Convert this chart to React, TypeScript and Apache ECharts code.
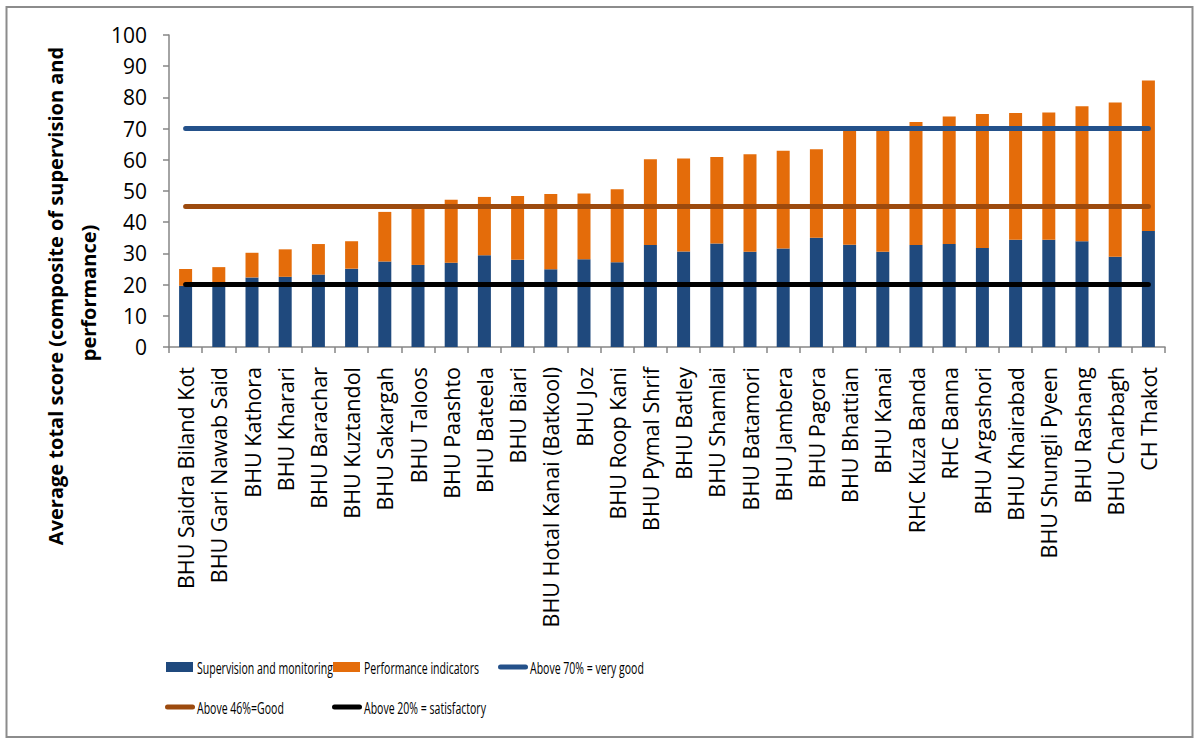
import React, { useEffect, useRef } from "react";
import * as echarts from "echarts";

const categories = [
  "BHU Saidra Biland Kot",
  "BHU Gari Nawab Said",
  "BHU Kathora",
  "BHU Kharari",
  "BHU Barachar",
  "BHU Kuztandol",
  "BHU Sakargah",
  "BHU Taloos",
  "BHU Paashto",
  "BHU Bateela",
  "BHU Biari",
  "BHU Hotal Kanai (Batkool)",
  "BHU Joz",
  "BHU Roop Kani",
  "BHU Pymal Shrif",
  "BHU Batley",
  "BHU Shamlai",
  "BHU Batamori",
  "BHU Jambera",
  "BHU Pagora",
  "BHU Bhattian",
  "BHU Kanai",
  "RHC Kuza Banda",
  "RHC Banna",
  "BHU Argashori",
  "BHU Khairabad",
  "BHU Shungli Pyeen",
  "BHU Rashang",
  "BHU Charbagh",
  "CH Thakot",
];

const supervision = [
  19.6, 20.6, 22.3, 22.5, 23.2, 25.1, 27.4, 26.3, 27.0, 29.4, 28.0, 24.9, 28.1,
  27.2, 32.7, 30.6, 33.2, 30.5, 31.6, 35.0, 32.8, 30.5, 32.7, 33.0, 31.7, 34.4,
  34.4, 33.9, 28.9, 37.2,
];

const performance = [
  5.4, 5.0, 7.9, 8.8, 9.8, 8.8, 15.9, 18.5, 20.2, 18.7, 20.4, 24.1, 21.1, 23.4,
  27.5, 29.8, 27.7, 31.3, 31.3, 28.4, 36.7, 39.2, 39.4, 40.9, 43.0, 40.6, 40.8,
  43.3, 49.5, 48.2,
];

const yTicks = { min: 0, max: 100, interval: 10 };

const veryGood = 70;
const good = 45;
const satisfactory = 20;

const seriesNames = [
  "Supervision and monitoring",
  "Performance indicators",
  "Above 70% = very good",
  "Above 46%=Good",
  "Above 20% = satisfactory",
];

const titleLines = [
  "Average total score (composite of supervision and",
  "performance)",
];

const C_BLUE = "#1F497D";
const C_ORANGE = "#E46C0A";
const C_LINE70 = "#24518A";
const C_LINE45 = "#9C4A0E";
const C_LINE20 = "#000000";
const seriesColors = [C_BLUE, C_ORANGE, C_LINE70, C_LINE45, C_LINE20];

const AXIS_COLOR = "#868686";
const FONT = "'Open Sans', sans-serif";

export default function App() {
  const ref = useRef<HTMLDivElement>(null);

  useEffect(() => {
    if (!ref.current) return;
    const chart = echarts.init(ref.current, undefined, { renderer: "svg" });

    const lineSeries = (name: string, value: number, color: string) => ({
      name,
      type: "line" as const,
      data: categories.map(() => value),
      symbol: "none",
      lineStyle: { color, width: 5, cap: "round" as const },
      itemStyle: { color },
      z: 5,
    });

    // legend layout: [iconLeft, centerY, isLine, textLeft]
    const legendLayout: [number, number, boolean, number][] = [
      [166, 667, false, 197],
      [333, 667, false, 364],
      [498, 667, true, 530],
      [165, 707, true, 197],
      [332, 707, true, 364],
    ];

    const legendGraphics: any[] = [];
    legendLayout.forEach(([ix, cy, isLine, tx], i) => {
      if (isLine) {
        legendGraphics.push({
          type: "line",
          shape: { x1: ix + 2.5, y1: cy, x2: ix + 27.5, y2: cy },
          style: { stroke: seriesColors[i], lineWidth: 5, lineCap: "round" },
          silent: true,
        });
      } else {
        legendGraphics.push({
          type: "rect",
          shape: { x: ix, y: cy - 5, width: 27, height: 10 },
          style: { fill: seriesColors[i] },
          silent: true,
        });
      }
      legendGraphics.push({
        type: "text",
        x: tx,
        y: cy,
        scaleX: 0.62,
        style: {
          text: seriesNames[i],
          fontFamily: FONT,
          fontSize: 17,
          fill: "#000",
          textAlign: "left",
          textVerticalAlign: "middle",
        },
        silent: true,
      });
    });

    chart.setOption({
      animation: false,
      backgroundColor: "#ffffff",
      grid: { left: 169, right: 35, top: 35, bottom: 399, containLabel: false },
      legend: { show: false },
      xAxis: {
        type: "category",
        data: categories,
        boundaryGap: true,
        axisLine: { show: true, lineStyle: { color: AXIS_COLOR, width: 1.5 } },
        axisTick: { show: true, length: 6, lineStyle: { color: AXIS_COLOR, width: 1.5 } },
        axisLabel: {
          rotate: 90,
          interval: 0,
          margin: 20,
          fontFamily: FONT,
          fontSize: 21.5,
          color: "#000",
        },
        splitLine: { show: false },
      },
      yAxis: {
        type: "value",
        min: yTicks.min,
        max: yTicks.max,
        interval: yTicks.interval,
        axisLine: { show: true, lineStyle: { color: AXIS_COLOR, width: 1.5 } },
        axisTick: { show: true, length: 6, lineStyle: { color: AXIS_COLOR, width: 1.5 } },
        axisLabel: {
          margin: 22,
          fontFamily: FONT,
          fontSize: 21,
          color: "#000",
        },
        splitLine: { show: false },
      },
      series: [
        {
          name: seriesNames[0],
          type: "bar",
          stack: "score",
          data: supervision,
          barWidth: 13,
          itemStyle: { color: C_BLUE },
        },
        {
          name: seriesNames[1],
          type: "bar",
          stack: "score",
          data: performance,
          barWidth: 13,
          itemStyle: { color: C_ORANGE },
        },
        lineSeries(seriesNames[2], veryGood, C_LINE70),
        lineSeries(seriesNames[3], good, C_LINE45),
        lineSeries(seriesNames[4], satisfactory, C_LINE20),
      ],
      graphic: [
        {
          type: "rect",
          shape: { x: 6.5, y: 7, width: 1186, height: 730 },
          style: { fill: "none", stroke: "#8C8C8C", lineWidth: 2 },
          silent: true,
        },
        {
          type: "text",
          x: 55,
          y: 296,
          rotation: Math.PI / 2,
          style: {
            text: titleLines[0],
            fontFamily: FONT,
            fontWeight: "bold",
            fontSize: 20,
            fill: "#000",
            textAlign: "center",
            textVerticalAlign: "middle",
          },
        },
        {
          type: "text",
          x: 88,
          y: 293,
          rotation: Math.PI / 2,
          style: {
            text: titleLines[1],
            fontFamily: FONT,
            fontWeight: "bold",
            fontSize: 20,
            fill: "#000",
            textAlign: "center",
            textVerticalAlign: "middle",
          },
        },
        ...legendGraphics,
      ],
    });

    return () => chart.dispose();
  }, []);

  return (
    <div
      ref={ref}
      style={{ position: "fixed", left: 0, top: 0, width: 1200, height: 746 }}
    />
  );
}
